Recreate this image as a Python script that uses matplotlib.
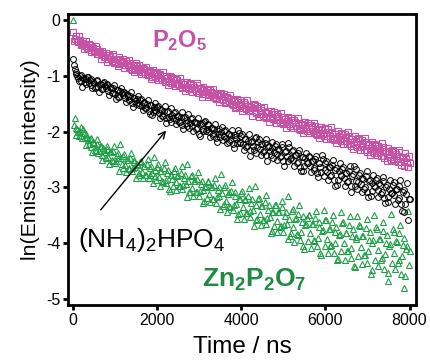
import numpy as np
import matplotlib
matplotlib.use("Agg")
import matplotlib.pyplot as plt

plt.rcParams['font.family'] = ['Liberation Sans', 'DejaVu Sans']
plt.rcParams['axes.unicode_minus'] = False
plt.rcParams['mathtext.fontset'] = 'custom'
plt.rcParams['mathtext.rm'] = 'Liberation Sans'
plt.rcParams['mathtext.bf'] = 'Liberation Sans:bold'
plt.rcParams['mathtext.default'] = 'rm'

# samples every 40 ns (t = 0, 40, ... 8000) and the in-between samples (t = 20, 60, ... 7980)
time_step_ns = 40
mid_offset_ns = 20
p2o5 = [
    -0.21, -0.33, -0.29, -0.39, -0.35, -0.42, -0.37, -0.47, -0.43, -0.49,
    -0.45, -0.53, -0.50, -0.57, -0.51, -0.60, -0.55, -0.63, -0.58, -0.66,
    -0.62, -0.70, -0.66, -0.73, -0.64, -0.75, -0.69, -0.78, -0.71, -0.74,
    -0.73, -0.81, -0.77, -0.84, -0.76, -0.89, -0.80, -0.86, -0.82, -0.90,
    -0.85, -0.93, -0.87, -0.96, -0.90, -0.99, -0.91, -1.01, -0.94, -0.97,
    -0.95, -1.04, -0.98, -1.07, -1.00, -1.10, -1.03, -1.09, -1.01, -1.13,
    -1.05, -1.14, -1.08, -1.17, -1.11, -1.21, -1.10, -1.19, -1.15, -1.23,
    -1.14, -1.24, -1.20, -1.27, -1.17, -1.30, -1.22, -1.32, -1.25, -1.29,
    -1.25, -1.34, -1.28, -1.38, -1.31, -1.42, -1.33, -1.36, -1.30, -1.44,
    -1.36, -1.46, -1.39, -1.48, -1.41, -1.52, -1.44, -1.55, -1.47, -1.51,
    -1.46, -1.57, -1.50, -1.60, -1.53, -1.63, -1.55, -1.58, -1.52, -1.66,
    -1.57, -1.68, -1.61, -1.71, -1.64, -1.75, -1.63, -1.73, -1.69, -1.78,
    -1.68, -1.79, -1.72, -1.82, -1.74, -1.86, -1.77, -1.80, -1.75, -1.89,
    -1.79, -1.90, -1.83, -1.93, -1.85, -1.97, -1.87, -1.94, -1.82, -1.98,
    -1.88, -1.99, -1.92, -2.02, -1.90, -2.06, -1.95, -2.03, -1.97, -2.08,
    -1.96, -2.08, -2.01, -2.12, -2.00, -2.15, -2.04, -2.11, -2.07, -2.17,
    -2.05, -2.17, -2.10, -2.22, -2.08, -2.25, -2.13, -2.19, -2.16, -2.28,
    -2.14, -2.27, -2.20, -2.33, -2.18, -2.36, -2.23, -2.29, -2.25, -2.39,
    -2.24, -2.38, -2.30, -2.44, -2.27, -2.47, -2.34, -2.40, -2.36, -2.51,
    -2.34, -2.49, -2.40, -2.55, -2.37, -2.59, -2.45, -2.52, -2.47, -2.64,
    -2.56,
]
p2o5_mid = [
    -0.38, -0.29, -0.37, -0.29, -0.44, -0.40, -0.51, -0.38, -0.49, -0.43,
    -0.57, -0.48, -0.55, -0.47, -0.61, -0.57, -0.69, -0.55, -0.66, -0.59,
    -0.74, -0.62, -0.70, -0.60, -0.76, -0.70, -0.82, -0.66, -0.77, -0.69,
    -0.85, -0.73, -0.81, -0.71, -0.87, -0.81, -0.93, -0.77, -0.88, -0.80,
    -0.97, -0.85, -0.93, -0.83, -0.99, -0.93, -1.05, -0.89, -1.00, -0.92,
    -1.08, -0.96, -1.04, -0.93, -1.10, -1.04, -1.17, -1.00, -1.12, -1.03,
    -1.18, -1.06, -1.14, -1.03, -1.20, -1.14, -1.27, -1.10, -1.22, -1.13,
    -1.28, -1.16, -1.24, -1.13, -1.30, -1.24, -1.37, -1.20, -1.32, -1.23,
    -1.38, -1.26, -1.34, -1.23, -1.40, -1.34, -1.47, -1.30, -1.42, -1.33,
    -1.49, -1.37, -1.45, -1.34, -1.51, -1.45, -1.58, -1.41, -1.53, -1.44,
    -1.62, -1.47, -1.57, -1.44, -1.63, -1.56, -1.71, -1.51, -1.64, -1.54,
    -1.73, -1.58, -1.68, -1.55, -1.74, -1.67, -1.82, -1.62, -1.75, -1.65,
    -1.84, -1.69, -1.79, -1.66, -1.85, -1.78, -1.93, -1.73, -1.86, -1.76,
    -1.94, -1.79, -1.89, -1.76, -1.95, -1.88, -2.02, -1.82, -1.95, -1.85,
    -2.03, -1.88, -1.98, -1.85, -2.04, -1.97, -2.11, -1.91, -2.04, -1.94,
    -2.13, -1.96, -2.07, -1.92, -2.14, -2.05, -2.21, -1.98, -2.14, -2.02,
    -2.22, -2.05, -2.16, -2.01, -2.23, -2.14, -2.31, -2.08, -2.24, -2.12,
    -2.32, -2.15, -2.26, -2.11, -2.33, -2.24, -2.41, -2.18, -2.34, -2.22,
    -2.42, -2.25, -2.36, -2.21, -2.43, -2.35, -2.52, -2.29, -2.45, -2.33,
    -2.53, -2.36, -2.47, -2.32, -2.54, -2.45, -2.62, -2.39, -2.55, -2.43,
]
nh4_2hpo4 = [
    -0.70, -0.88, -0.96, -1.04, -1.00, -1.09, -1.03, -1.11, -1.06, -1.02,
    -1.08, -1.16, -1.11, -1.21, -1.09, -1.19, -1.14, -1.24, -1.13, -1.18,
    -1.17, -1.27, -1.20, -1.30, -1.22, -1.33, -1.25, -1.38, -1.27, -1.31,
    -1.29, -1.40, -1.33, -1.44, -1.36, -1.49, -1.39, -1.45, -1.41, -1.52,
    -1.43, -1.54, -1.47, -1.58, -1.50, -1.63, -1.52, -1.70, -1.55, -1.61,
    -1.56, -1.67, -1.60, -1.71, -1.62, -1.76, -1.64, -1.73, -1.83, -1.70,
    -1.67, -1.79, -1.72, -1.82, -1.74, -1.88, -1.76, -1.84, -1.79, -1.93,
    -1.78, -1.90, -1.83, -1.95, -1.85, -2.05, -1.87, -1.96, -1.82, -1.99,
    -1.88, -2.01, -1.94, -2.07, -1.96, -2.12, -1.98, -2.04, -2.00, -2.15,
    -1.99, -2.12, -2.04, -2.18, -2.06, -2.23, -2.09, -2.14, -1.97, -2.20,
    -2.08, -2.22, -2.14, -2.28, -2.16, -2.33, -2.19, -2.25, -2.11, -2.38,
    -2.18, -2.31, -2.23, -2.36, -2.20, -2.41, -2.27, -2.34, -2.29, -2.47,
    -2.26, -2.40, -2.31, -2.46, -2.28, -2.52, -2.36, -2.43, -2.21, -2.49,
    -2.35, -2.50, -2.42, -2.57, -2.38, -2.63, -2.45, -2.71, -2.48, -2.56,
    -2.46, -2.61, -2.52, -2.68, -2.49, -2.74, -2.57, -2.64, -2.41, -2.79,
    -2.57, -2.73, -2.63, -2.80, -2.60, -2.86, -2.68, -2.95, -2.70, -2.77,
    -2.67, -2.84, -2.74, -2.91, -2.70, -2.97, -2.79, -2.62, -2.88, -3.02,
    -2.77, -2.94, -2.84, -3.02, -2.80, -3.08, -2.89, -3.15, -2.92, -2.98,
    -2.86, -3.05, -2.93, -3.12, -2.89, -3.19, -2.99, -3.27, -3.02, -3.10,
    -2.95, -3.14, -3.02, -3.22, -2.98, -3.30, -3.08, -3.45, -3.12, -3.58,
    -3.20,
]
nh4_2hpo4_mid = [
    -0.80, -0.93, -1.00, -1.09, -0.98, -1.19, -1.05, -1.14, -1.01, -1.13,
    -1.06, -1.22, -1.12, -1.19, -1.07, -1.28, -1.14, -1.24, -1.11, -1.22,
    -1.15, -1.34, -1.22, -1.31, -1.16, -1.42, -1.25, -1.37, -1.22, -1.35,
    -1.28, -1.47, -1.36, -1.44, -1.29, -1.56, -1.39, -1.51, -1.36, -1.49,
    -1.42, -1.61, -1.49, -1.58, -1.43, -1.69, -1.52, -1.65, -1.49, -1.62,
    -1.53, -1.76, -1.61, -1.71, -1.53, -1.85, -1.63, -1.78, -1.58, -1.75,
    -1.64, -1.87, -1.72, -1.82, -1.64, -1.96, -1.74, -1.89, -1.69, -1.85,
    -1.75, -1.98, -1.83, -1.93, -1.75, -2.07, -1.84, -1.99, -1.80, -1.96,
    -1.86, -2.09, -1.94, -2.04, -1.86, -2.18, -1.95, -2.10, -1.91, -2.07,
    -1.97, -2.20, -2.05, -2.15, -1.97, -2.29, -2.06, -2.21, -2.02, -2.18,
    -2.05, -2.33, -2.14, -2.26, -2.04, -2.43, -2.16, -2.33, -2.09, -2.28,
    -2.14, -2.42, -2.23, -2.35, -2.13, -2.52, -2.25, -2.42, -2.18, -2.37,
    -2.23, -2.51, -2.32, -2.44, -2.22, -2.61, -2.35, -2.52, -2.28, -2.47,
    -2.33, -2.61, -2.42, -2.54, -2.32, -2.71, -2.45, -2.62, -2.38, -2.57,
    -2.44, -2.72, -2.53, -2.65, -2.43, -2.82, -2.56, -2.73, -2.49, -2.68,
    -2.53, -2.87, -2.64, -2.78, -2.50, -2.97, -2.65, -2.86, -2.56, -2.79,
    -2.64, -2.98, -2.75, -2.89, -2.61, -3.08, -2.76, -2.97, -2.67, -2.90,
    -2.74, -3.08, -2.85, -2.99, -2.71, -3.18, -2.86, -3.07, -2.77, -3.00,
    -2.84, -3.18, -2.95, -3.09, -2.81, -3.28, -2.96, -3.17, -2.87, -3.10,
    -2.90, -3.30, -3.03, -3.19, -2.87, -3.42, -3.04, -3.29, -2.93, -3.20,
]
zn2p2o7 = [
    0.00, -1.75, -1.93, -2.01, -1.98, -2.08, -1.96, -2.12, -2.04, -2.15,
    -2.14, -2.27, -2.19, -2.33, -2.22, -2.38, -2.25, -2.42, -2.30, -2.36,
    -2.31, -2.46, -2.37, -2.51, -2.35, -2.56, -2.42, -2.48, -2.22, -2.58,
    -2.44, -2.60, -2.50, -2.66, -2.47, -2.71, -2.55, -2.63, -2.58, -2.75,
    -2.55, -2.72, -2.61, -2.78, -2.58, -2.84, -2.66, -2.74, -2.46, -2.80,
    -2.63, -2.81, -2.70, -2.88, -2.66, -2.93, -2.75, -3.02, -2.78, -2.85,
    -2.70, -2.90, -2.79, -2.97, -2.74, -3.03, -2.83, -2.94, -2.58, -3.08,
    -2.80, -3.01, -2.89, -3.09, -2.85, -3.16, -2.94, -3.04, -3.24, -2.98,
    -2.90, -3.12, -3.00, -3.21, -2.95, -3.28, -3.05, -3.16, -2.76, -3.33,
    -3.00, -3.24, -3.11, -3.33, -3.06, -3.40, -3.16, -3.29, -3.48, -3.20,
    -3.10, -3.36, -3.22, -3.46, -3.15, -3.53, -3.28, -3.41, -2.98, -3.58,
    -3.21, -3.48, -3.34, -3.58, -3.26, -3.66, -3.40, -3.53, -3.78, -3.44,
    -3.31, -3.60, -3.45, -3.71, -3.36, -3.80, -3.52, -3.65, -3.15, -3.88,
    -3.42, -3.72, -3.56, -3.84, -3.47, -3.94, -3.63, -4.05, -3.68, -3.55,
    -3.50, -3.82, -3.66, -3.95, -3.55, -4.06, -3.72, -4.18, -3.78, -3.40,
    -3.58, -3.92, -3.74, -4.05, -3.62, -4.17, -3.80, -4.30, -3.86, -3.45,
    -3.64, -4.00, -3.82, -4.14, -3.68, -4.27, -3.88, -4.42, -3.93, -3.52,
    -3.68, -4.07, -3.87, -4.22, -3.73, -4.36, -3.95, -4.55, -4.00, -3.50,
    -3.72, -4.13, -3.92, -4.30, -3.78, -4.46, -4.00, -4.68, -4.05, -3.48,
    -3.75, -4.17, -3.96, -4.36, -3.82, -4.55, -4.04, -4.80, -4.10, -3.42,
    -4.14,
]
zn2p2o7_mid = [
    -1.88, -2.06, -1.95, -2.08, -1.92, -2.11, -2.03, -2.24, -2.09, -2.22,
    -2.11, -2.37, -2.21, -2.34, -2.13, -2.35, -2.25, -2.50, -2.33, -2.47,
    -2.26, -2.58, -2.37, -2.53, -2.25, -2.53, -2.39, -2.71, -2.48, -2.65,
    -2.40, -2.72, -2.50, -2.67, -2.38, -2.66, -2.51, -2.83, -2.60, -2.77,
    -2.52, -2.84, -2.62, -2.78, -2.49, -2.77, -2.61, -2.93, -2.69, -2.86,
    -2.58, -2.97, -2.70, -2.90, -2.54, -2.86, -2.68, -3.07, -2.77, -2.97,
    -2.66, -3.05, -2.78, -2.98, -2.62, -2.96, -2.78, -3.17, -2.88, -3.08,
    -2.77, -3.16, -2.89, -3.09, -2.73, -3.07, -2.89, -3.28, -2.99, -3.19,
    -2.88, -3.27, -3.00, -3.20, -2.84, -3.18, -3.00, -3.39, -3.10, -3.30,
    -2.95, -3.44, -3.09, -3.35, -2.90, -3.31, -3.08, -3.57, -3.21, -3.46,
    -3.07, -3.56, -3.21, -3.46, -3.01, -3.43, -3.20, -3.69, -3.32, -3.57,
    -3.19, -3.68, -3.33, -3.58, -3.13, -3.55, -3.32, -3.81, -3.44, -3.69,
    -3.31, -3.80, -3.45, -3.70, -3.25, -3.67, -3.44, -3.93, -3.56, -3.81,
    -3.39, -3.98, -3.55, -3.85, -3.31, -3.80, -3.52, -4.11, -3.66, -3.96,
    -3.50, -4.09, -3.66, -3.96, -3.42, -3.90, -3.62, -4.21, -3.76, -4.06,
    -3.59, -4.18, -3.75, -4.04, -3.50, -3.99, -3.71, -4.29, -3.84, -4.14,
    -3.63, -4.31, -3.81, -4.15, -3.51, -4.08, -3.74, -4.43, -3.89, -4.24,
    -3.69, -4.37, -3.87, -4.21, -3.57, -4.14, -3.80, -4.49, -3.95, -4.30,
    -3.75, -4.42, -3.93, -4.26, -3.63, -4.19, -3.86, -4.54, -4.01, -4.35,
    -3.80, -4.47, -3.98, -4.31, -3.68, -4.24, -3.91, -4.59, -4.06, -4.40,
]
x_ticks = [0, 2000, 4000, 6000, 8000]
y_ticks = [0, -1, -2, -3, -4, -5]


def series(main, mid):
    t = np.concatenate([np.arange(len(main)) * time_step_ns,
                        np.arange(len(mid)) * time_step_ns + mid_offset_ns])
    v = np.concatenate([np.asarray(main), np.asarray(mid)])
    order = np.argsort(t, kind='stable')
    return t[order], v[order]


t_p, v_p = series(p2o5, p2o5_mid)
t_n, v_n = series(nh4_2hpo4, nh4_2hpo4_mid)
t_z, v_z = series(zn2p2o7, zn2p2o7_mid)

pink = '#c652a4'
green = '#20a048'
green_text = '#1f8a42'

fig = plt.figure(figsize=(4.30, 3.63), dpi=100)
ax = fig.add_axes([0.158, 0.160, 0.809, 0.801])

ax.plot(t_z, v_z, linestyle='none', marker='^', markersize=4.2,
        markerfacecolor='none', markeredgecolor=green, markeredgewidth=0.8)
ax.plot(t_n, v_n, linestyle='none', marker='o', markersize=4.2,
        markerfacecolor='none', markeredgecolor='black', markeredgewidth=0.7)
ax.plot(t_p, v_p, linestyle='none', marker='s', markersize=4.2,
        markerfacecolor='none', markeredgecolor=pink, markeredgewidth=0.8)

ax.set_xlim(-120, 8150)
ax.set_ylim(-5.11, 0.11)
ax.set_xticks(x_ticks)
ax.set_yticks(y_ticks)
ax.set_yticklabels([str(v) for v in y_ticks])
for s in ax.spines.values():
    s.set_linewidth(2.0)
ax.tick_params(direction='out', length=3.5, width=2.0, labelsize=11.5, pad=2)

ax.set_xlabel('Time / ns', fontsize=17.5, labelpad=6)
ax.set_ylabel('ln(Emission intensity)', fontsize=15.3, labelpad=4)

ax.text(1880, -0.48, r'$\mathbf{P_2O_5}$', color=pink, fontsize=17,
        ha='left', va='baseline')
ax.text(3060, -4.78, r'$\mathbf{Zn_2P_2O_7}$', color=green_text, fontsize=19,
        ha='left', va='baseline')
ax.text(120, -4.07, r'(NH$_4$)$_2$HPO$_4$', color='black', fontsize=19,
        ha='left', va='baseline')
ax.annotate('', xy=(2257, -1.94), xytext=(618, -3.44),
            arrowprops=dict(arrowstyle='->', color='black', lw=1.0,
                            mutation_scale=12))

fig.savefig('out.png', dpi=100)
